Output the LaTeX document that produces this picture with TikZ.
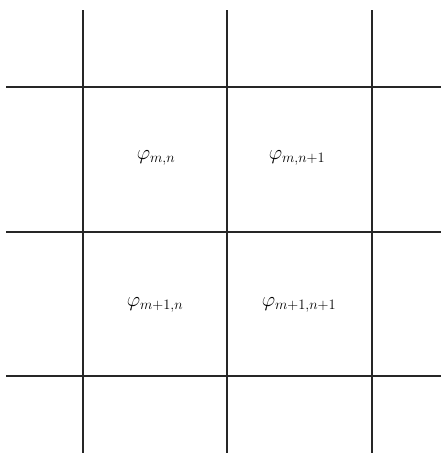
\documentclass[tikz,border=0pt]{standalone}
\usepackage{amsmath}
\tikzset{gridline/.style={line width=1.4pt, black!85}}
\begin{document}
\begin{tikzpicture}[x=1pt,y=-1pt,font=\huge]
		\useasboundingbox (0,0) rectangle (446,455);
		
		% Vertical lines
		\draw[gridline] (83,10) -- (83,453);
		\draw[gridline] (227,10) -- (227,453);
		\draw[gridline] (372,10) -- (372,453);
		
		% Horizontal lines
		\draw[gridline] (6,87) -- (441,87);
		\draw[gridline] (6,232) -- (441,232);
		\draw[gridline] (6,376) -- (441,376);
		
		% Grid values
		\node (pmn) at (156,158) {$\varphi_{m,n}$};
		\node (pmn1) at (297,158) {$\varphi_{m,n+1}$};
		\node (pm1n) at (155,305) {$\varphi_{m+1,n}$};
		\node (pm1n1) at (299,305) {$\varphi_{m+1,n+1}$};
		
	\end{tikzpicture}
\end{document}
